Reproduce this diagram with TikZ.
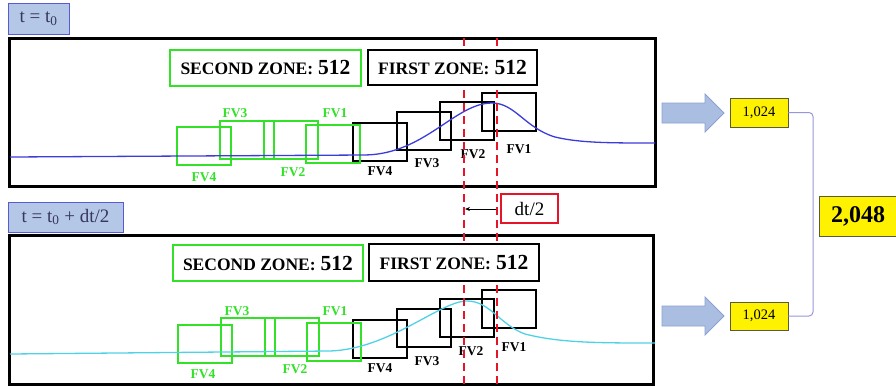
\documentclass[tikz,border=0pt]{standalone}
\usepackage{fontspec}
\setmainfont{Liberation Serif}
\usetikzlibrary{arrows.meta}
\definecolor{lblfill}{RGB}{180,199,231}
\definecolor{lblborder}{RGB}{90,90,210}
\definecolor{lbltext}{RGB}{55,55,90}
\definecolor{zgreen}{RGB}{50,225,40}
\definecolor{zred}{RGB}{230,20,40}
\definecolor{cblue}{RGB}{60,60,220}
\definecolor{ccyan}{RGB}{80,210,230}
\definecolor{arrfill}{RGB}{170,190,225}
\definecolor{arrborder}{RGB}{140,160,210}
\definecolor{numborder}{RGB}{90,90,60}
\definecolor{brk}{RGB}{150,150,220}
\newcommand\zonelabel[1]{{\fontsize{17.5}{20}\selectfont\bfseries #1}\hspace{5pt}{\fontsize{21.5}{24}\selectfont\bfseries 512}}
\begin{document}
\begin{tikzpicture}[x=1pt,y=-1pt,
  lbl/.style={draw=lblborder, fill=lblfill, line width=1pt, text=lbltext, font=\fontsize{19}{22}\selectfont, inner sep=0pt},
  panel/.style={draw=black, line width=3pt, inner sep=0pt},
  zone/.style={fill=white, line width=2.5pt, inner sep=0pt},
  gzone/.style={zone, draw=zgreen},
  bzone/.style={zone, draw=black},
  fvb/.style={draw=black, line width=1.5pt, minimum width=54pt, minimum height=38pt, inner sep=0pt},
  fvg/.style={fvb, draw=zgreen},
  fvlab/.style={font=\fontsize{13.5}{15}\selectfont\bfseries, inner sep=0pt},
  fvlabg/.style={fvlab, text=zgreen},
  reddash/.style={draw=zred, line width=2pt, dash pattern=on 8pt off 5pt},
  numbox/.style={draw=numborder, fill=yellow, line width=0.8pt, inner sep=0pt},
  blockarrow/.style={fill=arrfill, draw=arrborder, line width=0.8pt}]
\useasboundingbox (0,0) rectangle (896,386);

% time labels
\node[lbl, minimum width=61pt, minimum height=31pt] (lab1) at (38.5,18.5) {t = t\textsubscript{0}};
\node[lbl, minimum width=115pt, minimum height=30pt] (lab2) at (65.5,217) {t = t\textsubscript{0} + dt/2};

% panels
\node[panel, minimum width=646pt, minimum height=148pt] (p1) at (332,112) {};
\node[panel, minimum width=644pt, minimum height=149pt] (p2) at (331,309.5) {};

% top FV boxes
\node[fvb] (t1) at (509,112) {};
\node[fvb] (t2) at (467,121) {};
\node[fvb] (t3) at (424,131) {};
\node[fvb] (t4) at (380,142) {};
\node[fvg] (tg4) at (204,146) {};
\node[fvg] (tg3) at (247,140) {};
\node[fvg] (tg2) at (291,140) {};
\node[fvg] (tg1) at (333,144) {};

% bottom FV boxes
\node[fvb] (b1) at (509,309) {};
\node[fvb] (b2) at (467,318) {};
\node[fvb] (b3) at (424,328) {};
\node[fvb] (b4) at (380,339) {};
\node[fvg] (bg4) at (205,344) {};
\node[fvg] (bg3) at (248,337) {};
\node[fvg] (bg2) at (292,337) {};
\node[fvg] (bg1) at (334,342) {};

% curves
\draw[cblue, line width=1.3pt] (10,157) -- (365,155) .. controls (425,154) and (455,103) .. (492,103)
  .. controls (515,103) and (525,128) .. (555,137) .. controls (580,143) and (610,143) .. (655,143);
\draw[ccyan, line width=1.3pt] (10,354) -- (330,351) .. controls (390,349) and (440,301) .. (467,301)
  .. controls (490,301) and (500,325) .. (525,334) .. controls (560,343) and (600,343) .. (655,343);

% FV labels top
\node[fvlab] (lt1) at (519,149) {FV1};
\node[fvlab] (lt2) at (473,154) {FV2};
\node[fvlab] (lt3) at (427,163) {FV3};
\node[fvlab] (lt4) at (380,171) {FV4};
\node[fvlabg] (ltg3) at (235,113) {FV3};
\node[fvlabg] (ltg1) at (335,113) {FV1};
\node[fvlabg] (ltg4) at (204,177) {FV4};
\node[fvlabg] (ltg2) at (293,172) {FV2};

% FV labels bottom
\node[fvlab] (lb1) at (514,347) {FV1};
\node[fvlab] (lb2) at (471,351) {FV2};
\node[fvlab] (lb3) at (427,361) {FV3};
\node[fvlab] (lb4) at (380,368) {FV4};
\node[fvlabg] (lbg3) at (237,311) {FV3};
\node[fvlabg] (lbg1) at (335,311) {FV1};
\node[fvlabg] (lbg4) at (203,374) {FV4};
\node[fvlabg] (lbg2) at (295,369) {FV2};

% red dashed lines
\coordinate (r1t) at (464,38);
\coordinate (r1b) at (464,386);
\coordinate (r2t) at (497,38);
\coordinate (r2b) at (497,386);
\draw[reddash] (r1t) -- (r1b);
\draw[reddash] (r2t) -- (r2b);

% zone boxes
\node[gzone, minimum width=191pt, minimum height=36pt] (z2t) at (265.5,68) {\zonelabel{SECOND ZONE:}};
\node[bzone, minimum width=169pt, minimum height=35pt] (z1t) at (452.5,67.5) {\zonelabel{FIRST ZONE:}};
\node[gzone, minimum width=190pt, minimum height=36pt] (z2b) at (268,263) {\zonelabel{SECOND ZONE:}};
\node[bzone, minimum width=170pt, minimum height=37pt] (z1b) at (454,262.5) {\zonelabel{FIRST ZONE:}};

% dt/2
\node[draw=zred, line width=2.5pt, minimum width=57pt, minimum height=29pt, inner sep=0pt, font=\fontsize{19}{22}\selectfont] (dt) at (529.5,208.5) {dt/2};
\coordinate (a2) at (496,209);
\coordinate (a1) at (465,209);
\draw[-{Stealth[length=5pt,width=4pt]}, line width=0.8pt] (a2) -- (a1);

% block arrows
\draw[blockarrow] (662,103) -- (705,103) -- (705,94) -- (724,113) -- (705,132) -- (705,123) -- (662,123) -- cycle;
\draw[blockarrow] (662,306) -- (705,306) -- (705,297) -- (724,316) -- (705,335) -- (705,326) -- (662,326) -- cycle;

% number boxes
\node[numbox, minimum width=58pt, minimum height=29pt, font=\fontsize{14.5}{16}\selectfont] (n1) at (759,112.5) {1,024};
\node[numbox, minimum width=58pt, minimum height=28pt, font=\fontsize{14.5}{16}\selectfont] (n2) at (759,316) {1,024};
\node[numbox, minimum width=78pt, minimum height=40pt, font=\fontsize{24}{26}\selectfont\bfseries] (tot) at (858,216) {2,048};

% bracket
\coordinate (k1) at (813,112.5);
\coordinate (k2) at (813,316);
\draw[brk, line width=1pt, rounded corners=4pt] (n1.east) -- (k1) -- (k2) -- (n2.east);
\end{tikzpicture}
\end{document}
